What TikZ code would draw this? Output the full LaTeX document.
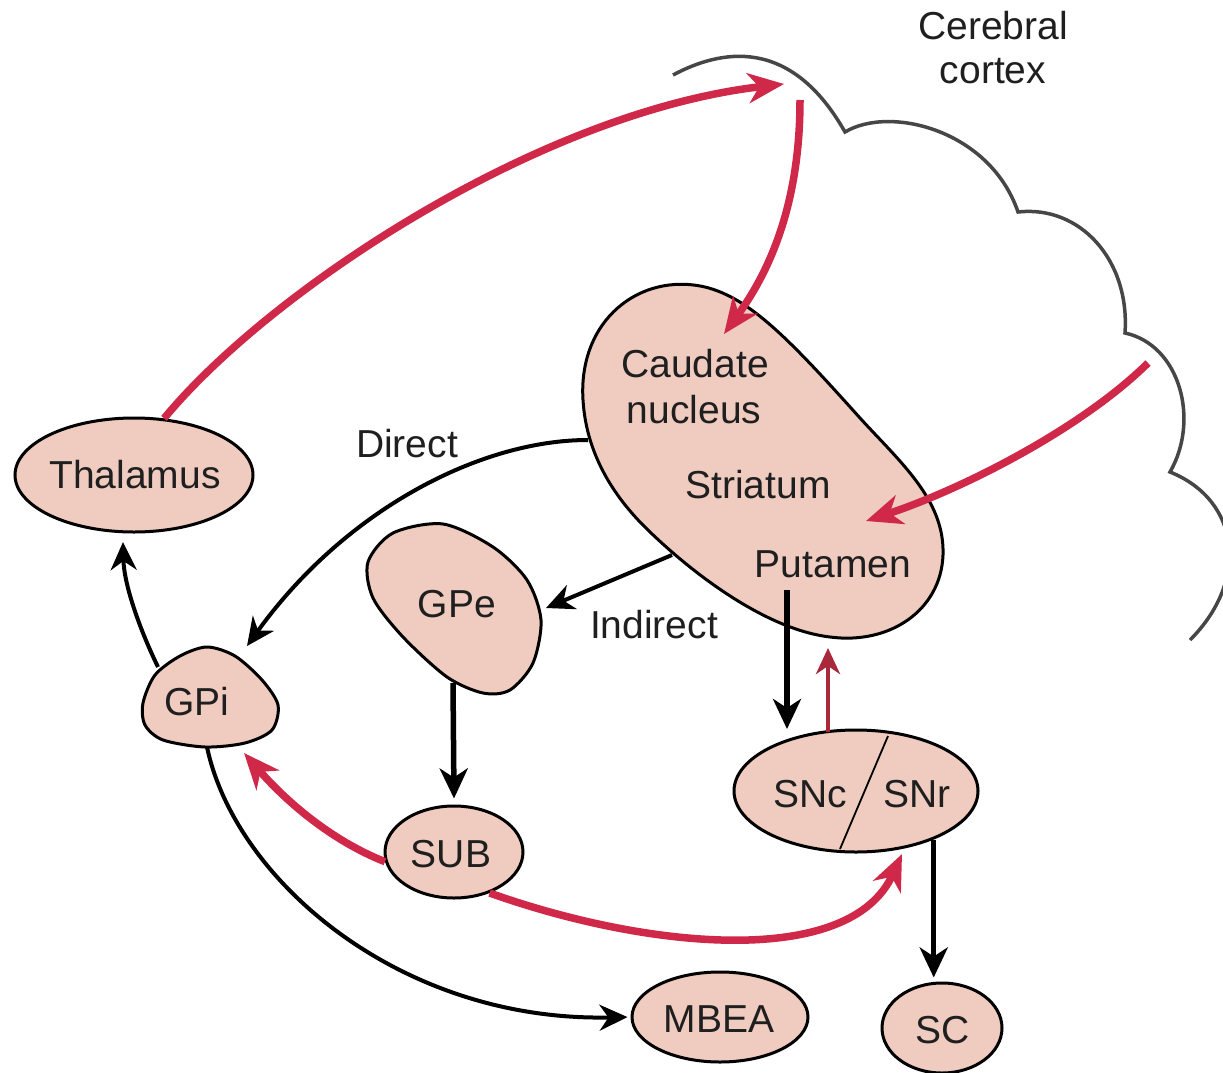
\documentclass[tikz,border=0pt]{standalone}
\usepackage{fontspec}
\setmainfont{Liberation Sans}
\usetikzlibrary{arrows.meta,shapes.geometric}
\definecolor{nodefill}{RGB}{239,203,192}
\definecolor{redpath}{RGB}{208,40,72}
\definecolor{darkred}{RGB}{170,40,60}
\definecolor{ctxgray}{RGB}{70,70,70}
\begin{document}
\begin{tikzpicture}[x=1pt,y=-1pt,
  txt/.style={font=\fontsize{39}{44}\selectfont, text=black!88, inner sep=0pt, anchor=base},
  oval/.style={ellipse, draw=black, line width=3pt, fill=nodefill, inner sep=0pt},
  blob/.style={draw=black, line width=3pt, fill=nodefill},
  blk/.style={draw=black, line width=4pt, -{Stealth[length=28pt,width=26pt,inset=9pt]}},
  blkthick/.style={draw=black, line width=5.5pt, -{Stealth[length=30pt,width=28pt,inset=9pt]}},
  redarr/.style={draw=redpath, line width=7.5pt, -{Stealth[length=36pt,width=30pt,inset=11pt]}},
  thinred/.style={draw=darkred, line width=4.5pt, -{Stealth[length=26pt,width=24pt,inset=8pt]}},
  ctxline/.style={draw=ctxgray, line width=3.5pt, line join=miter}
]
\fill[white] (0,0) rectangle (1223,1073);
\useasboundingbox (0,0) rectangle (1223,1073);

% cerebral cortex outline
\begin{scope}
\clip (0,0) rectangle (1223,1073);
\draw[ctxline] (673,75) .. controls (720,50) and (790,35) .. (845,132)
  .. controls (890,105) and (990,130) .. (1018,212)
  .. controls (1080,205) and (1130,260) .. (1125,333)
  .. controls (1180,345) and (1200,420) .. (1170,472)
  .. controls (1240,500) and (1250,580) .. (1190,640);
\end{scope}
\node[txt] (cer) at (993,40) {Cerebral};
\node[txt] (ctx) at (993,84) {cortex};

% striatum
\draw[blob] (583,400) .. controls (578,320) and (640,272) .. (705,287)
  .. controls (750,298) and (790,340) .. (860,418)
  .. controls (900,462) and (945,500) .. (943,555)
  .. controls (941,610) and (890,645) .. (830,637)
  .. controls (770,630) and (700,580) .. (650,532)
  .. controls (610,494) and (586,450) .. (583,400) -- cycle;
\node[txt] (caud) at (695,377) {Caudate};
\node[txt] (nucl) at (694,423) {nucleus};
\node[txt] (stri) at (758,498) {Striatum};
\node[txt] (puta) at (833,577) {Putamen};

% GPe
\draw[blob] plot[smooth cycle] coordinates {(368,562) (393,533) (443,524) (493,547) (527,580) (541,620) (533,663) (510,690) (483,693) (447,677) (403,637) (373,598)};
\node[txt] (gpe) at (457,617) {GPe};

% GPi
\draw[blob] plot[smooth cycle] coordinates {(143,703) (155,675) (180,656) (207,647) (235,656) (262,680) (278,705) (272,730) (245,743) (205,747) (163,740) (145,725)};
\node[txt] (gpi) at (197,715) {GPi};

% ellipse nodes
\node[oval, minimum width=238pt, minimum height=114pt] (thal) at (134,475) {};
\node[txt] (thaltxt) at (135,488) {Thalamus};
\node[oval, minimum width=138pt, minimum height=92pt] (sub) at (454,852) {};
\node[txt] (subtxt) at (451,867) {SUB};
\node[oval, minimum width=244pt, minimum height=122pt] (sn) at (856,791) {};
\draw[black, line width=1.8pt] (888,736) -- (840,849);
\node[txt] (snc) at (810,807) {SNc};
\node[txt] (snr) at (917,807) {SNr};
\node[oval, minimum width=176pt, minimum height=90pt] (mbea) at (720,1017) {};
\node[txt] (mbeatxt) at (719,1032) {MBEA};
\node[oval, minimum width=120pt, minimum height=90pt] (sc) at (942,1028) {};
\node[txt] (sctxt) at (943,1043) {SC};

% labels
\node[txt] (direct) at (407,457) {Direct};
\node[txt] (indirect) at (654,638) {Indirect};

% coordinates for connector ends
\coordinate (ctxA) at (784,84);
\coordinate (ctxB) at (800,100);
\coordinate (caudIn) at (724,334);
\coordinate (ctxC) at (1148,363);
\coordinate (putIn) at (866,521);
\coordinate (strL) at (588,440);
\coordinate (strLL) at (672,555);
\coordinate (gpiIn) at (247,646);
\coordinate (gpeR) at (546,608);
\coordinate (gpeB) at (453,683);
\coordinate (putOut) at (787,590);
\coordinate (snIn) at (787,729);
\coordinate (snOut) at (828,732);
\coordinate (strIn) at (828,648);
\coordinate (gpiTop) at (158,667);
\coordinate (thalIn) at (123,542);
\coordinate (gpiBot) at (207,747);
\coordinate (gpiRed) at (244,753);
\coordinate (snRed) at (902,854);

% connectors
\draw[redarr] (thal.62) .. controls (270,290) and (540,112) .. (ctxA);
\draw[redarr] (ctxB) .. controls (800,200) and (772,268) .. (caudIn);
\draw[redarr] (ctxC) .. controls (1080,430) and (960,490) .. (putIn);
\draw[blk] (strL) .. controls (480,440) and (345,510) .. (gpiIn);
\draw[blk] (strLL) -- (gpeR);
\draw[blkthick] (gpeB) -- ([yshift=6pt]sub.north);
\draw[blkthick] (putOut) -- (snIn);
\draw[thinred] (snOut) -- (strIn);
\draw[blkthick, shorten >=4pt] (sn.-32) -- (sn.-32 |- sc.north);
\draw[blk] (gpiTop) .. controls (140,630) and (124,585) .. (thalIn);
\draw[blk, shorten >=3pt] (gpiBot) .. controls (235,880) and (400,1022) .. (mbea.west);
\draw[redarr] (sub.188) .. controls (330,840) and (285,800) .. (gpiRed);
\draw[redarr] (sub.-49) .. controls (650,950) and (850,968) .. (snRed);
\end{tikzpicture}
\end{document}
